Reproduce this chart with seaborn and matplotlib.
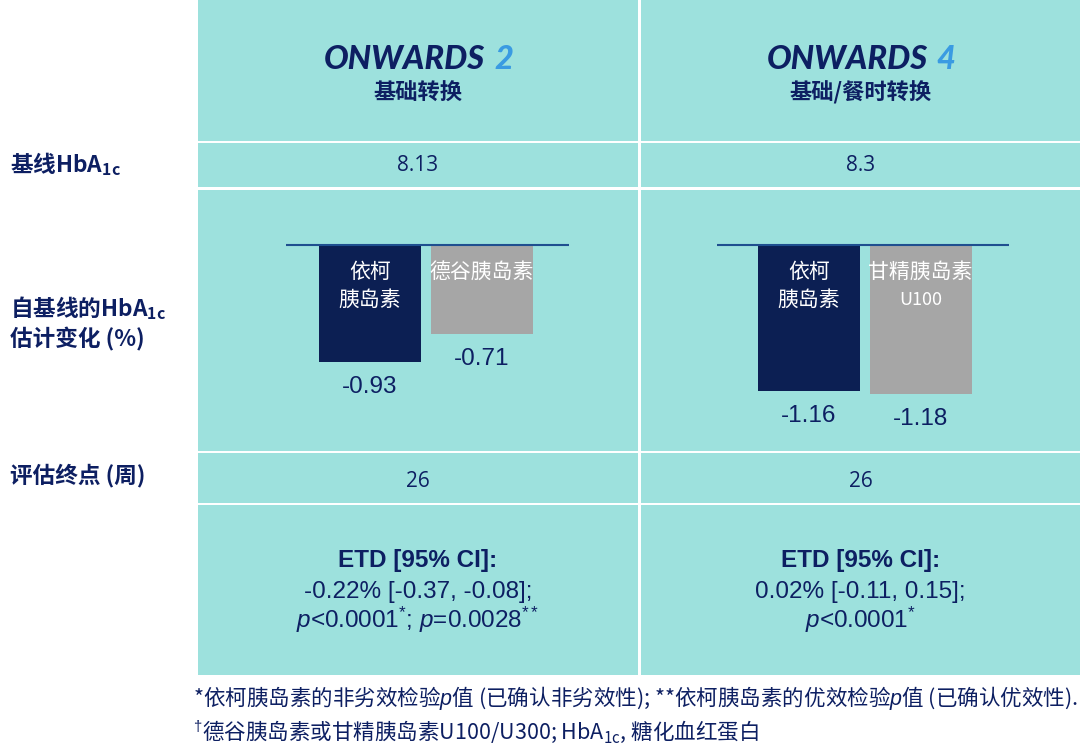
import matplotlib
matplotlib.use("Agg")
import matplotlib.pyplot as plt
from matplotlib.patches import Rectangle
import pandas as pd
import seaborn as sns

# 数据
trial_name = "ONWARDS"
trial_nums = ["2", "4"]
trial_types = ["基础转换", "基础/餐时转换"]
baseline_hba1c = ["8.13", "8.3"]
weeks = ["26", "26"]
drugs_on2 = ["依柯\n胰岛素", "德谷胰岛素"]
drugs_on4 = ["依柯\n胰岛素", "甘精胰岛素\nU100"]
change_on2 = [-0.93, -0.71]
change_on4 = [-1.16, -1.18]
etd_on2 = ["ETD [95% CI]:", "-0.22% [-0.37, -0.08];",
           r"$\mathit{p}$<0.0001$\mathregular{^{*}}$; $\mathit{p}$=0.0028$\mathregular{^{**}}$"]
etd_on4 = ["ETD [95% CI]:", "0.02% [-0.11, 0.15];",
           r"$\mathit{p}$<0.0001$\mathregular{^{*}}$"]
row_labels = [r"基线HbA$_{\mathregular{1c}}$", r"自基线的HbA$_{\mathregular{1c}}$",
              "估计变化 (%)", "评估终点 (周)"]
footnotes = [r"*依柯胰岛素的非劣效检验$\mathit{p}$值 (已确认非劣效性); **依柯胰岛素的优效检验$\mathit{p}$值 (已确认优效性).",
             r"$^{\dag}$德谷胰岛素或甘精胰岛素U100/U300; HbA$_{\mathregular{1c}}$, 糖化血红蛋白"]

# 样式
CYAN = "#9DE1DD"
NAVY = "#0D1F62"
BAR_NAVY = "#00195F"
BAR_GRAY = "#A6A6A6"
BLUE = "#3A9BE2"
LINE = "#1F4F8F"
CJK = ["Noto Sans CJK SC", "DejaVu Sans"]

sns.set_theme(style="white")
plt.rcParams["font.family"] = CJK
plt.rcParams["mathtext.fontset"] = "custom"
plt.rcParams["mathtext.rm"] = "Liberation Sans"
plt.rcParams["mathtext.it"] = "Liberation Sans:italic"
plt.rcParams["mathtext.bf"] = "Liberation Sans:bold"

W, H = 1080, 751
fig = plt.figure(figsize=(W / 100, H / 100), dpi=100)
bg = fig.add_axes([0, 0, 1, 1])
bg.set_xlim(0, W)
bg.set_ylim(H, 0)
bg.axis("off")

# 表格单元格 (像素)
cols = [(198, 638), (641, 1080)]
rows = [(0, 141), (143, 187), (190, 451), (453, 503), (505, 675)]
for x0, x1 in cols:
    for y0, y1 in rows:
        bg.add_patch(Rectangle((x0, y0), x1 - x0, y1 - y0, color=CYAN, lw=0))

# 表头
for (x0, x1), num, sub in zip(cols, trial_nums, trial_types):
    cx = (x0 + x1) / 2
    bg.text(cx + 67, 69, trial_name, ha="right", va="baseline", fontfamily="Lato",
            fontweight="black", fontstyle="italic", fontsize=23.5, color=NAVY)
    bg.text(cx + 76, 69, num, ha="left", va="baseline", fontfamily="Lato",
            fontweight="black", fontstyle="italic", fontsize=23.5, color=BLUE)
    bg.text(cx, 93, sub, ha="center", va="center", family=CJK,
            fontweight="bold", fontsize=16, color=NAVY)

# 左侧行标题
for lab, yb in zip(row_labels, [172, 316, 346, 482]):
    bg.text(10, yb, lab, ha="left", va="baseline", family="Noto Sans CJK SC",
            fontweight="bold", fontsize=16.3, color=NAVY)

# 基线与周数
for (x0, x1), b, wk in zip(cols, baseline_hba1c, weeks):
    cx = (x0 + x1) / 2
    bg.text(cx, 171, b, ha="center", va="baseline", fontfamily="Open Sans",
            fontsize=15, color=NAVY)
    bg.text(cx, 487, wk, ha="center", va="baseline", fontfamily="Open Sans",
            fontsize=15, color=NAVY)

# ETD
for (x0, x1), lines in zip(cols, [etd_on2, etd_on4]):
    cx = (x0 + x1) / 2
    for i, (txt, yb) in enumerate(zip(lines, [567, 598, 628])):
        bg.text(cx, yb, txt, ha="center", va="baseline", fontfamily="Liberation Sans",
                fontweight="bold" if i == 0 else "normal", fontsize=17.5, color=NAVY)

# 脚注
for txt, yb in zip(footnotes, [705, 739]):
    bg.text(193, yb, txt, ha="left", va="baseline", family="Noto Sans CJK SC",
            fontsize=15.5, color=NAVY)

# 柱状图
bar_setup = [
    (drugs_on2, change_on2, (198, 638), (-1.543, 2.403), (-0.753, 1.785)),
    (drugs_on4, change_on4, (641, 1080), (-1.507, 2.430), (-0.825, 1.794)),
]
y_top, y_bot = 190, 451
for drugs, vals, (x0, x1), xlim, zline in bar_setup:
    ax = fig.add_axes([x0 / W, 1 - y_bot / H, (x1 - x0) / W, (y_bot - y_top) / H])
    df = pd.DataFrame({"drug": drugs, "change": vals})
    sns.barplot(data=df, x="drug", y="change", hue="drug", palette=[BAR_NAVY, BAR_GRAY],
                width=0.915, linewidth=0, legend=False, ax=ax)
    ax.set_xlim(*xlim)
    ax.set_ylim(-1.635, 0.4365)
    ax.hlines(0, zline[0], zline[1], color=LINE, lw=1.5, zorder=5)
    for i, (d, v) in enumerate(zip(drugs, vals)):
        for j, part in enumerate(d.split("\n")):
            ax.annotate(part, xy=(i, 0), xytext=(0, -19.4 - 20.2 * j), textcoords="offset points",
                        ha="center", va="center", family=CJK,
                        fontsize=15 if j == 0 or "U" not in part else 13, color="white")
        ax.annotate(f"{v:.2f}", xy=(i, v), xytext=(0, -18), textcoords="offset points",
                    ha="center", va="center", fontfamily="Liberation Sans",
                    fontsize=17.5, color=NAVY)
    ax.set_facecolor("none")
    ax.axis("off")

fig.savefig("out.png", dpi=100)
